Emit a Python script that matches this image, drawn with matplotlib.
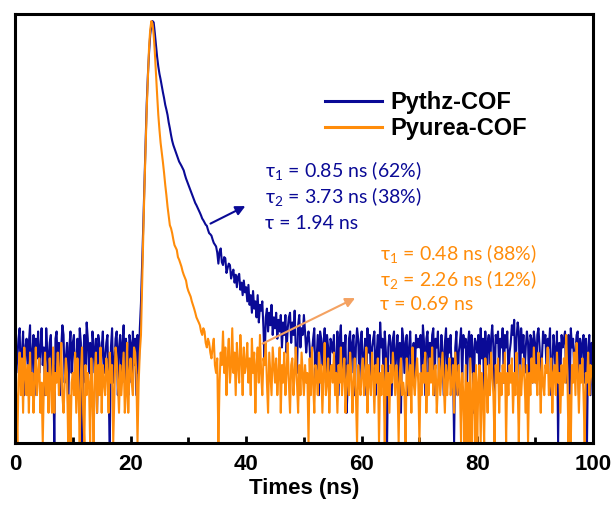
import matplotlib.pyplot as plt
import numpy as np

# time channels (ns), 0.2 ns bins, 0 .. 100 ns
t = np.arange(501) * 0.2

# counts, one row = 5 ns
pythz = [
    12, 5, 7, 11, 14, 4, 8, 13, 3, 9, 11, 6, 10, 15, 4, 8, 12, 3, 11, 7, 13, 5, 9, 14, 6,
    9, 3, 14, 8, 5, 10, 12, 4, 6, 1, 11, 13, 5, 10, 3, 9, 15, 12, 4, 7, 10, 2, 9, 13, 5,
    10, 12, 4, 6, 11, 3, 14, 10, 1, 7, 12, 4, 16, 11, 5, 10, 3, 13, 9, 5, 11, 2, 12, 10, 4,
    9, 13, 5, 7, 10, 12, 3, 1, 9, 14, 4, 6, 11, 13, 3, 9, 12, 5, 10, 15, 4, 11, 8, 3, 12,
    10, 4, 13, 6, 11, 3, 12, 5, 14, 25, 60, 150, 400, 1000, 2500, 4800, 8000, 12000, 15000, 16500, 16000, 12500, 9500, 7200, 5800,
    4900, 4300, 3700, 3200, 2800, 2400, 2150, 1900, 1600, 1400, 1200, 1050, 950, 880, 810, 760, 700, 650, 620, 590, 560, 530, 480, 440, 410,
    380, 355, 330, 310, 290, 270, 250, 238, 225, 212, 200, 188, 175, 168, 160, 152, 148, 135, 125, 122, 118, 108, 100, 96, 92,
    80, 62, 82, 88, 64, 60, 72, 70, 50, 56, 62, 60, 44, 50, 54, 40, 48, 36, 46, 49, 34, 40, 30, 42, 32,
    36, 26, 38, 24, 30, 20, 33, 22, 26, 18, 30, 16, 24, 21, 26, 14, 6, 18, 22, 13, 20, 15, 24, 12, 18,
    14, 20, 11, 17, 13, 19, 9, 16, 12, 19, 8, 14, 18, 20, 10, 16, 12, 21, 8, 5, 15, 19, 9, 14, 12,
    19, 13, 8, 11, 13, 9, 5, 8, 11, 14, 4, 7, 12, 3, 13, 11, 6, 10, 14, 4, 12, 9, 3, 11, 10,
    8, 12, 4, 6, 13, 3, 11, 15, 5, 10, 7, 12, 2, 4, 11, 13, 5, 10, 12, 3, 9, 14, 11, 4, 10,
    13, 5, 7, 11, 3, 14, 8, 12, 4, 9, 11, 13, 3, 8, 12, 5, 16, 9, 11, 4, 13, 8, 1, 9, 12,
    10, 3, 11, 13, 5, 8, 12, 4, 10, 2, 14, 11, 5, 10, 12, 3, 9, 13, 6, 8, 10, 4, 12, 9, 11,
    9, 12, 4, 15, 10, 3, 11, 13, 5, 10, 6, 12, 14, 3, 11, 9, 13, 4, 7, 12, 8, 3, 10, 14, 5,
    11, 8, 12, 4, 7, 1, 9, 13, 3, 8, 10, 14, 4, 12, 9, 11, 3, 10, 13, 5, 12, 9, 2, 11, 10,
    8, 12, 4, 14, 7, 11, 3, 13, 6, 10, 12, 4, 11, 15, 9, 3, 12, 10, 13, 5, 11, 9, 14, 4, 12,
    9, 13, 5, 8, 10, 15, 12, 17, 4, 11, 16, 13, 3, 14, 8, 12, 5, 9, 13, 10, 3, 12, 11, 4, 13,
    10, 4, 12, 14, 9, 3, 7, 13, 10, 12, 5, 11, 9, 14, 3, 6, 12, 9, 4, 13, 1, 10, 5, 12, 9,
    11, 13, 4, 10, 12, 3, 14, 9, 11, 5, 8, 12, 13, 3, 11, 6, 10, 12, 4, 11, 1, 9, 12, 3, 10,
    9]

pyurea = [
    5, 3, 1, 4, 8, 3, 7, 2, 9, 5, 3, 6, 2, 8, 3, 5, 2, 4, 9, 3, 5, 7, 2, 4, 1,
    4, 8, 3, 5, 2, 7, 4, 2, 9, 2, 5, 4, 8, 3, 5, 10, 3, 2, 4, 7, 5, 1, 3, 1, 4,
    5, 3, 8, 2, 7, 3, 1, 5, 9, 2, 1, 6, 3, 5, 4, 1, 7, 3, 1, 5, 8, 2, 6, 3, 9,
    2, 6, 4, 3, 7, 5, 2, 8, 4, 6, 1, 3, 9, 7, 4, 2, 6, 3, 5, 8, 2, 3, 10, 2, 5,
    7, 4, 3, 9, 8, 5, 1, 4, 8, 12, 40, 120, 350, 900, 2200, 4500, 9000, 13500, 16500, 15500, 12000, 8000, 4800, 3000, 1900,
    1350, 1000, 800, 640, 500, 380, 300, 230, 185, 150, 140, 125, 108, 95, 90, 85, 72, 68, 63, 58, 52, 48, 45, 42, 36,
    33, 31, 29, 26, 24, 22, 20, 18, 17, 16, 15, 13, 12, 14, 13, 10, 9, 11, 10, 8, 7, 9, 11, 6, 5,
    7, 1, 4, 8, 6, 13, 5, 9, 3, 7, 11, 4, 6, 14, 5, 8, 3, 10, 6, 4, 12, 7, 3, 9, 5,
    6, 10, 4, 7, 3, 11, 5, 8, 2, 6, 9, 4, 12, 5, 3, 7, 6, 10, 4, 2, 8, 5, 3, 9, 6,
    4, 7, 3, 5, 9, 2, 6, 4, 8, 3, 5, 10, 4, 2, 6, 7, 3, 5, 9, 4, 2, 6, 3, 8, 5,
    3, 6, 4, 5, 1, 7, 3, 9, 4, 2, 6, 5, 3, 8, 4, 6, 2, 5, 10, 3, 4, 7, 2, 5, 6,
    4, 8, 3, 5, 2, 6, 4, 9, 3, 5, 7, 2, 4, 6, 3, 8, 5, 2, 4, 7, 3, 1, 6, 4, 3,
    5, 7, 3, 4, 9, 2, 6, 4, 3, 8, 5, 2, 6, 4, 7, 1, 5, 3, 6, 4, 1, 7, 3, 5, 2,
    6, 4, 8, 5, 3, 6, 4, 1, 5, 7, 3, 4, 3, 1, 7, 5, 3, 6, 2, 9, 4, 3, 5, 7, 4,
    1, 5, 3, 6, 4, 8, 2, 5, 3, 7, 4, 9, 3, 5, 6, 2, 4, 7, 3, 5, 8, 4, 2, 6, 3,
    5, 7, 3, 4, 6, 2, 8, 5, 3, 6, 4, 1, 5, 3, 1, 6, 1, 4, 1, 7, 1, 3, 5, 1, 6,
    1, 4, 6, 1, 5, 3, 1, 7, 4, 2, 6, 3, 8, 5, 3, 1, 6, 4, 7, 2, 5, 3, 6, 4, 8,
    1, 5, 3, 6, 4, 7, 2, 5, 3, 8, 4, 1, 6, 3, 5, 7, 4, 2, 6, 1, 5, 3, 7, 4, 9,
    4, 6, 3, 8, 5, 2, 7, 4, 3, 6, 5, 9, 3, 4, 7, 2, 5, 6, 3, 8, 4, 5, 2, 6, 3,
    7, 4, 12, 5, 1, 3, 1, 6, 4, 8, 3, 10, 5, 2, 6, 4, 7, 3, 1, 5, 4, 8, 3, 6, 5,
    4]

assert len(pythz) == len(t) and len(pyurea) == len(t)

blue = '#0a0a96'
orange = '#ff8c0a'

plt.rcParams['mathtext.fontset'] = 'custom'
plt.rcParams['mathtext.rm'] = 'Lato'

fig = plt.figure(figsize=(6.13, 5.12), dpi=100)
ax = fig.add_axes([0.0245, 0.135, 0.9425, 0.838])

ax.plot(t, pythz, color=blue, lw=1.5, label='Pythz-COF')
ax.plot(t, pyurea, color=orange, lw=1.5, label='Pyurea-COF')

ax.set_yscale('log')
ax.set_ylim(1, 19500)
ax.set_xlim(0, 100)
ax.set_yticks([])
ax.minorticks_off()
ax.set_xticks([0, 20, 40, 60, 80, 100])
ax.set_xticks([10, 30, 50, 70, 90], minor=True)
ax.tick_params(axis='x', which='major', direction='in', length=5, width=2, pad=8)
ax.tick_params(axis='x', which='minor', direction='in', length=4, width=2)
ax.tick_params(axis='y', which='both', left=False, right=False)
for lab in ax.get_xticklabels():
    lab.set_fontfamily('Liberation Sans')
    lab.set_fontweight('bold')
    lab.set_fontsize(16)
for s in ax.spines.values():
    s.set_linewidth(2.2)
ax.set_xlabel('Times (ns)', fontfamily='Liberation Sans', fontweight='bold', fontsize=16, labelpad=2)

leg = ax.legend(loc='upper left', bbox_to_anchor=(0.5, 0.87), frameon=False,
                handlelength=2.4, handletextpad=0.35, labelspacing=0.15,
                prop={'family': 'Liberation Sans', 'weight': 'bold', 'size': 17})
for h in leg.get_lines():
    h.set_linewidth(2.2)


def ypix(p):
    # pixel row of the reference -> counts on the log axis
    return 10 ** ((443 - p) / 100)


tf = dict(fontfamily='Lato', fontsize=14, va='center', ha='left')
ax.text(43.3, ypix(172), r'τ$_1$ = 0.85 ns (62%)', color=blue, **tf)
ax.text(43.3, ypix(198), r'τ$_2$ = 3.73 ns (38%)', color=blue, **tf)
ax.text(43.3, ypix(224), 'τ = 1.94 ns', color=blue, **tf)
ax.text(63.1, ypix(254), r'τ$_1$ = 0.48 ns (88%)', color=orange, **tf)
ax.text(63.1, ypix(280), r'τ$_2$ = 2.26 ns (12%)', color=orange, **tf)
ax.text(63.1, ypix(305), 'τ = 0.69 ns', color=orange, **tf)

ax.annotate('', xy=(40.3, ypix(205)), xytext=(33.4, ypix(225)),
            arrowprops=dict(arrowstyle='-|>', color=blue, lw=1.5, mutation_scale=14))
ax.annotate('', xy=(59.3, ypix(297)), xytext=(42.4, ypix(345)),
            arrowprops=dict(arrowstyle='-|>', color='#f4a262', lw=1.5, mutation_scale=14))

fig.savefig('out.png', dpi=100)
